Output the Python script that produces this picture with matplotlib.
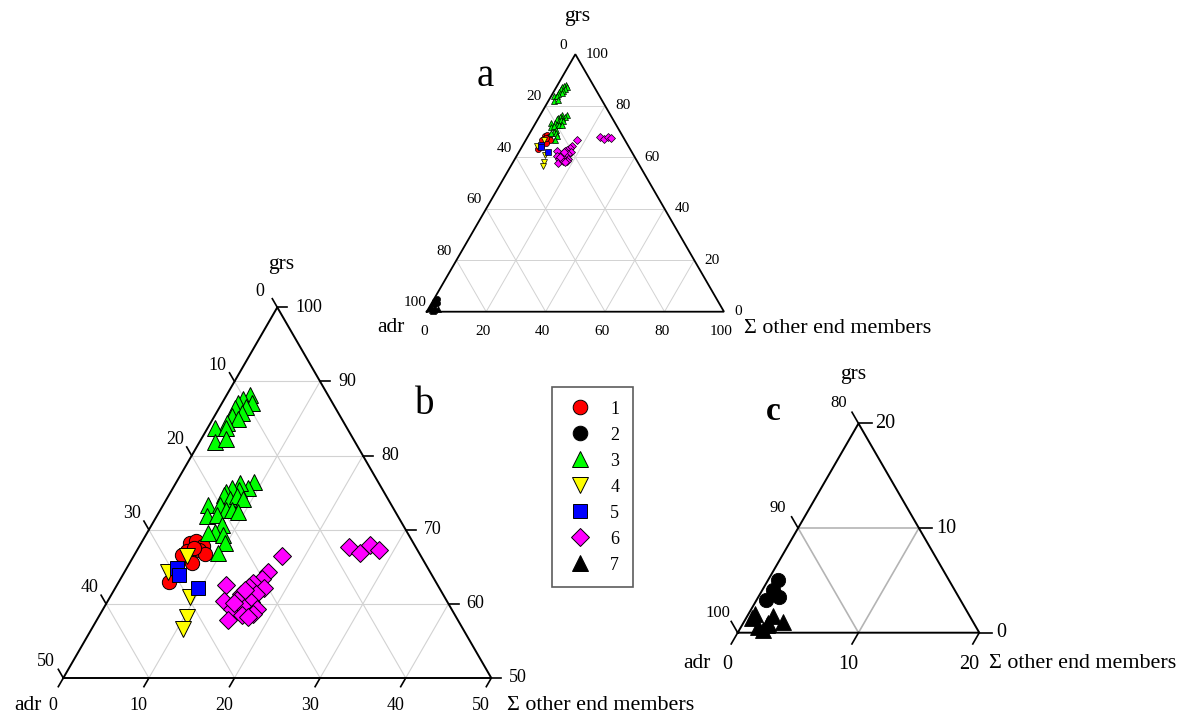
import numpy as np
import matplotlib
matplotlib.use('Agg')
import matplotlib.pyplot as plt
from matplotlib.lines import Line2D

plt.rcParams['font.family'] = ['Liberation Serif', 'DejaVu Serif']

W, H = 1183, 715

# ---------------- data (mol. %): grs and sum of other end members; adr = 100 - grs - other
g1_grs = [68.2, 68.5, 67.8, 67.1, 67.3, 66.7, 66.6, 65.5, 63.0, 67.5]
g1_oth = [5.7, 6.3, 7.4, 5.9, 7.2, 8.2, 5.6, 7.3, 5.8, 6.5]

g2_grs = [5.0, 4.1, 3.4, 3.1]
g2_oth = [0.8, 0.9, 1.7, 0.8]

g3_grs = [88.2, 87.7, 87.1, 87.1, 86.6, 86.4, 85.7, 85.3, 85.0, 84.4, 83.7, 83.7, 81.9, 82.3,
          76.5, 75.6, 76.3, 75.4, 75.6, 75.1, 74.7, 74.2, 74.5, 74.2, 73.3, 73.3, 72.7, 72.7,
          72.4, 71.8, 72.0, 70.6, 69.7, 69.5, 69.3, 68.2, 66.8]
g3_oth = [2.7, 2.2, 3.5, 1.9, 3.1, 1.9, 3.0, 2.0, 2.9, 1.9, 0.9, 2.1, 1.8, 2.9,
          9.0, 8.8, 7.5, 7.8, 6.9, 6.5, 6.4, 7.4, 8.0, 8.9, 5.3, 6.6, 7.6, 8.3,
          9.2, 5.9, 6.9, 8.2, 7.9, 7.2, 9.0, 9.8, 9.7]

g4_grs = [66.5, 64.3, 60.9, 58.2, 56.6]
g4_oth = [6.2, 5.1, 9.3, 10.4, 10.7]

g5_grs = [64.8, 63.9, 62.1]
g5_oth = [5.9, 6.6, 9.7]

g6_grs = [66.5, 64.3, 63.4, 62.8, 62.5, 62.3, 62.2, 61.3, 61.3, 60.4, 60.5, 60.3, 59.3, 59.4,
          59.3, 58.7, 57.8, 58.5, 58.2, 60.1, 61.9,
          67.7, 66.9, 67.9, 67.3]
g6_oth = [17.3, 16.8, 16.5, 15.8, 12.7, 15.5, 17.3, 15.1, 16.9, 13.6, 15.1, 16.8, 15.0, 16.4,
          18.0, 17.8, 15.3, 16.6, 17.5, 14.9, 15.3,
          24.5, 26.2, 26.9, 28.2]

g7_grs = [1.8, 1.6, 1.05, 0.74, 0.57, 1.38, 0.26, 0.9]
g7_oth = [0.54, 2.15, 3.24, 2.03, 1.42, 0.47, 1.99, 2.08]

groups = ['1', '2', '3', '4', '5', '6', '7']
grs_data = [g1_grs, g2_grs, g3_grs, g4_grs, g5_grs, g6_grs, g7_grs]
oth_data = [g1_oth, g2_oth, g3_oth, g4_oth, g5_oth, g6_oth, g7_oth]
markers = ['o', 'o', '^', 'v', 's', 'D', '^']
colors = ['#ff0000', '#000000', '#00ff00', '#ffff00', '#0000ff', '#ff00ff', '#000000']
size_factor = [1.0, 1.0, 1.05, 1.05, 0.95, 0.88, 1.05]

S3 = np.sqrt(3) / 2

fig = plt.figure(figsize=(W / 100, H / 100), dpi=100)


def to_xy(grs, oth, gmin):
    grs = np.asarray(grs, float)
    oth = np.asarray(oth, float)
    return oth + (grs - gmin) / 2.0, (grs - gmin) * S3


def tern_axes(x0, x1, ybase, gmin, amin):
    span = 100 - gmin - amin
    wpx = x1 - x0
    hpx = wpx * S3
    ax = fig.add_axes([x0 / W, (H - ybase) / H, wpx / W, hpx / H])
    ax.set_xlim(0, span)
    ax.set_ylim(0, span * S3)
    ax.axis('off')
    ax.spx = wpx / span  # pixels per unit
    ax.gmin, ax.amin, ax.span = gmin, amin, span
    return ax


def draw_frame(ax, step, gcol, glw, lw):
    gmin, amin, span = ax.gmin, ax.amin, ax.span
    vals = np.arange(step, span, step)
    for v in vals:
        g = gmin + v
        x, y = to_xy([g, g], [0, 100 - amin - g], gmin)
        ax.plot(x, y, color=gcol, lw=glw, zorder=1)
        o = v
        x, y = to_xy([gmin, 100 - amin - o], [o, o], gmin)
        ax.plot(x, y, color=gcol, lw=glw, zorder=1)
        a = amin + v
        x, y = to_xy([gmin, 100 - a], [100 - a - gmin, 0], gmin)
        ax.plot(x, y, color=gcol, lw=glw, zorder=1)
    x, y = to_xy([gmin, gmin, 100 - amin, gmin], [0, span, 0, 0], gmin)
    ax.plot(x, y, color='black', lw=lw, zorder=2, solid_joinstyle='miter', clip_on=False)


def axis_labels(ax, step, fs_left, fs_right, fs_bot, ticklen=0,
                left_off=(-11, 9), right_off=10, bot_off=(-3, -20), tick_lw=1.2):
    gmin, amin, span = ax.gmin, ax.amin, ax.span
    vals = np.arange(0, span + 0.01, step)
    L = ticklen / ax.spx
    for v in vals:
        # bottom axis: other end members
        o = v
        x, y = to_xy(gmin, o, gmin)
        if ticklen:
            ax.plot([x, x - 0.5 * L], [y, y - S3 * L], color='black', lw=tick_lw, clip_on=False)
        ax.annotate('%d' % o, (x, y), xytext=bot_off, textcoords='offset pixels',
                    ha='center', va='center', fontsize=fs_bot)
        # right axis: grs
        g = gmin + v
        x, y = to_xy(g, 100 - amin - g, gmin)
        if ticklen:
            ax.plot([x, x + L], [y, y], color='black', lw=tick_lw, clip_on=False)
        ax.annotate('%d' % g, (x, y), xytext=(right_off, 0), textcoords='offset pixels',
                    ha='left', va='center', fontsize=fs_right)
        # left axis: adr
        a = amin + v
        x, y = to_xy(100 - a, 0, gmin)
        if ticklen:
            ax.plot([x, x - 0.5 * L], [y, y + S3 * L], color='black', lw=tick_lw, clip_on=False)
        ax.annotate('%d' % a, (x, y), xytext=left_off, textcoords='offset pixels',
                    ha='center', va='center', fontsize=fs_left)


def scatter(ax, msize, mew):
    for lab, gg, oo, mk, c, f in zip(groups, grs_data, oth_data, markers, colors, size_factor):
        gg = np.asarray(gg, float)
        oo = np.asarray(oo, float)
        adr = 100 - gg - oo
        keep = (gg >= ax.gmin - 1e-9) & (adr >= ax.amin - 1e-9)
        if not keep.any():
            continue
        x, y = to_xy(gg[keep], oo[keep], ax.gmin)
        ax.plot(x, y, linestyle='none', marker=mk, ms=msize * f, mfc=c, mec='black',
                mew=mew, zorder=3, clip_on=False)


def ftext(x, y, s, **kw):
    fig.text(x / W, 1 - y / H, s, **kw)


# ---------------- panel a (full triangle)
axa = tern_axes(426.7, 724.0, 311.7, 0, 0)
draw_frame(axa, 20, '#d2d2d2', 0.7, 1.3)
axis_labels(axa, 20, 11, 11, 11, ticklen=0, left_off=(-12, 9), right_off=10, bot_off=(-3, -20))
scatter(axa, 4.4, 0.5)
ftext(577, 17, 'grs', fontsize=15.5, ha='center', va='center')
ftext(391, 328, 'adr', fontsize=15.5, ha='center', va='center')
ftext(744, 329, 'Σ other end members', fontsize=15.8, ha='left', va='center')
ftext(485, 77, 'a', fontsize=28, ha='center', va='center')

# ---------------- panel b (grs 50-100)
axb = tern_axes(63.3, 491.3, 678.0, 50, 0)
draw_frame(axb, 10, '#d2d2d2', 0.8, 1.4)
axis_labels(axb, 10, 13, 13, 13, ticklen=10, left_off=(-17, 16), right_off=18,
            bot_off=(-10, -27))
scatter(axb, 10.3, 0.7)
ftext(281, 265, 'grs', fontsize=15.5, ha='center', va='center')
ftext(28, 705, 'adr', fontsize=15.5, ha='center', va='center')
ftext(507, 705, 'Σ other end members', fontsize=15.8, ha='left', va='center')
ftext(425, 404, 'b', fontsize=28, ha='center', va='center')

# ---------------- panel c (adr 80-100)
axc = tern_axes(737.7, 979.3, 632.7, 0, 80)
draw_frame(axc, 10, '#b4b4b4', 1.2, 1.4)
axis_labels(axc, 10, 12, 14.5, 14.5, ticklen=13, left_off=(-20, 20), right_off=17,
            bot_off=(-10, -32))
scatter(axc, 10.3, 0.6)
ftext(853, 375, 'grs', fontsize=15.5, ha='center', va='center')
ftext(697, 663, 'adr', fontsize=15.5, ha='center', va='center')
ftext(989, 663, 'Σ other end members', fontsize=15.8, ha='left', va='center')
ftext(773, 412, 'c', fontsize=24, fontweight='bold', ha='center', va='center')

# ---------------- legend
handles = [Line2D([], [], linestyle='none', marker=mk, ms=10.5 * f, mfc=c, mec='black', mew=0.7)
           for mk, c, f in zip(markers, colors, size_factor)]
leg = fig.legend(handles, groups, loc='center', bbox_to_anchor=(592.2 / W, 1 - 487.2 / H),
                 frameon=True, fancybox=False, edgecolor='#333333', fontsize=13,
                 handlelength=1.7, handletextpad=0.8, borderpad=0.75, labelspacing=0.5,
                 borderaxespad=0)
leg.get_frame().set_linewidth(1.2)

fig.savefig('out.png', dpi=100)
